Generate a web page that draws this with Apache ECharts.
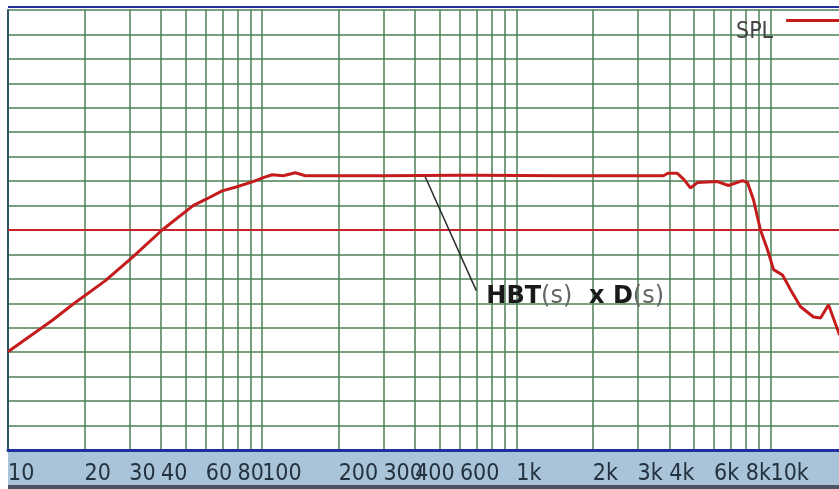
<!DOCTYPE html>
<html>
<head>
<meta charset="utf-8">
<script src="https://cdn.jsdelivr.net/npm/echarts@6/dist/echarts.min.js"></script>
<style>
html, body { margin: 0; padding: 0; background: #fff; }
#main { width: 839px; height: 489px; }
</style>
</head>
<body>
<div id="main"></div>
<script>
// frequency response (Hz / dB)
var freq = [10, 15, 17.9, 24.1, 31, 40.4, 53.5, 60.7, 69.6, 79, 92, 101, 109.5, 121, 135, 148,
    300, 600, 700, 1500, 2500, 3790, 3950, 4300, 4550, 4840, 5160, 6190, 6830, 7760, 8120,
    8570, 9130, 9730, 10280, 11150, 11990, 13130, 14770, 15740, 16920, 18700];
var spl = [60.1, 66.6, 69.7, 74.6, 79.5, 85.0, 90.0, 91.4, 93.0, 93.8, 94.9, 95.7, 96.3, 96.1, 96.7, 96.1,
    96.1, 96.2, 96.2, 96.1, 96.1, 96.1, 96.6, 96.6, 95.4, 93.6, 94.7, 94.9, 94.1, 95.1, 94.7,
    91.2, 85.0, 81.0, 76.9, 75.8, 72.8, 69.3, 67.2, 67.0, 69.7, 63.5];

var gridFreqs = [10, 20, 30, 40, 50, 60, 70, 80, 90, 100, 200, 300, 400, 500, 600, 700, 800, 900,
    1000, 2000, 3000, 4000, 5000, 6000, 7000, 8000, 9000, 10000, 20000];
var tickLabels = [10, 20, 30, 40, 60, 80, 100, 200, 300, 400, 600, 1000, 2000, 3000, 4000, 6000, 8000, 10000];
var axisEnd = 20000;

var refLevel = 85;
var leaderStart = [438, 95.9];
var leaderEnd = [696, 72.6];
var notePoint = [722, 71.3];

var myChart = echarts.init(document.getElementById('main'));

var gridGreen = '#4b8154';
var narrowFont = 'Liberation Sans Narrow, DejaVu Sans Condensed, sans-serif';

option = {
    animation: false,
    backgroundColor: '#fff',
    grid: {
        left: 8,
        right: -8,
        top: 10,
        bottom: 39,
        outerBoundsMode: 'none'
    },
    legend: {
        data: ['SPL'],
        left: 731,
        top: 14,
        align: 'right',
        icon: 'rect',
        itemWidth: 53,
        itemHeight: 3,
        formatter: '{a|{name}}',
        textStyle: {
            rich: {
                a: {
                    fontFamily: narrowFont,
                    fontSize: 23,
                    color: '#444',
                    padding: [24, 8, 0, 0]
                }
            }
        }
    },
    graphic: [
        {
            type: 'rect',
            z: -10,
            shape: { x: 8, y: 451, width: 831, height: 34 },
            style: { fill: '#a9c4d8' }
        },
        {
            type: 'rect',
            z: -10,
            shape: { x: 8, y: 485, width: 831, height: 4 },
            style: { fill: '#4b5660' }
        },
        {
            type: 'line',
            shape: { x1: 8, y1: 7, x2: 839, y2: 7 },
            style: { stroke: '#1f2f9e', lineWidth: 2 }
        }
    ],
    xAxis: {
        type: 'log',
        logBase: 10,
        min: 10,
        max: axisEnd,
        axisLine: {
            show: true,
            lineStyle: { color: '#1f2f9e', width: 3 }
        },
        axisTick: {
            show: false,
            customValues: gridFreqs
        },
        axisLabel: {
            // blank label at the (off-screen) axis end keeps 8k and 10k both visible
            customValues: tickLabels.concat([axisEnd]),
            hideOverlap: false,
            align: 'left',
            margin: 13,
            fontFamily: narrowFont,
            fontSize: 23,
            color: '#24313f',
            formatter: function (v) {
                if (v >= axisEnd) {
                    return ' ';
                }
                return v >= 1000 ? (v / 1000) + 'k' : String(v);
            }
        },
        splitLine: {
            show: true,
            lineStyle: { color: gridGreen, width: 1.5 }
        }
    },
    yAxis: {
        type: 'value',
        min: 40,
        max: 130,
        interval: 5,
        axisLabel: { show: false },
        axisTick: { show: false },
        axisLine: {
            show: true,
            lineStyle: { color: '#2b5566', width: 2 }
        },
        splitLine: {
            show: true,
            lineStyle: { color: gridGreen, width: 1.5 }
        }
    },
    series: [
        {
            name: 'SPL',
            type: 'line',
            showSymbol: false,
            color: '#c41c1c',
            lineStyle: { color: '#c41c1c', width: 3 },
            data: freq.map(function (f, i) {
                return [f, spl[i]];
            }),
            markLine: {
                silent: true,
                symbol: ['none', 'none'],
                label: { show: false },
                data: [
                    {
                        yAxis: refLevel,
                        lineStyle: { color: '#c8232b', width: 2, type: 'solid' }
                    },
                    [
                        { coord: leaderStart, lineStyle: { color: '#2a2a2a', width: 1.5, type: 'solid' } },
                        { coord: leaderEnd }
                    ]
                ]
            },
            markPoint: {
                silent: true,
                symbol: 'circle',
                symbolSize: 0,
                data: [{ coord: notePoint }],
                label: {
                    show: true,
                    position: 'right',
                    distance: 6,
                    formatter: '{b|HBT}{p|(s)}{b|  x }{b|D}{p|(s)}',
                    rich: {
                        b: {
                            fontFamily: 'DejaVu Sans',
                            fontWeight: 'bold',
                            fontSize: 24,
                            color: '#1a1a1a'
                        },
                        p: {
                            fontFamily: 'DejaVu Sans',
                            fontSize: 24,
                            color: '#666'
                        }
                    }
                }
            }
        }
    ]
};

myChart.setOption(option);
</script>
</body>
</html>
